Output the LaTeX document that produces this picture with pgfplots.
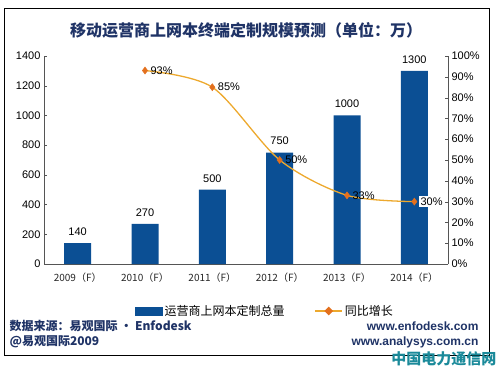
\documentclass[border=0pt]{standalone}
\usepackage{fontspec}
\setmainfont{Liberation Sans}
\newfontfamily\cjk{Noto Sans CJK SC}
\usepackage{pgfplots}
\pgfplotsset{compat=1.18}
\definecolor{barblue}{HTML}{0B4F94}
\definecolor{lineorange}{HTML}{EDA92E}
\definecolor{mkorange}{HTML}{E3701E}
\definecolor{navy}{HTML}{1F3366}
\definecolor{teal}{HTML}{1B8A9A}
\definecolor{axgray}{HTML}{555555}
\begin{document}
\begin{tikzpicture}
\useasboundingbox (0pt,0pt) rectangle (500pt,368pt);
\draw[black,line width=0.8pt] (4pt,13pt) rectangle (489pt,360pt);
\node[font=\cjk\bfseries\fontsize{16}{18}\selectfont,text=navy] at (246pt,338pt) {移动运营商上网本终端定制规模预测（单位：万）};
\begin{axis}[
  at={(44pt,104pt)}, anchor=south west,
  width=404pt, height=208pt, scale only axis,
  xmin=-0.5, xmax=5.5, ymin=0, ymax=1400,
  ytick={0,200,...,1400},
  xtick={0,...,5},
  xticklabels={2009（F）,2010（F）,2011（F）,2012（F）,2013（F）,2014（F）},
  x tick label style={font=\cjk\fontsize{10}{12}\selectfont, yshift=-2pt, text=black!85},
  y tick label style={font=\fontsize{11}{13}\selectfont},
  /pgf/number format/assume math mode=true,
  /pgf/number format/1000 sep={},
  axis x line*=bottom, axis y line*=left,
  axis line style={axgray, line width=0.8pt},
  tick style={axgray},
  major tick length=3pt,
  xtick style={draw=none},
  tick align=inside,
  ybar, bar width=27pt,
  nodes near coords,
  nodes near coords style={font=\fontsize{11}{13}\selectfont, text=black, yshift=4pt},
]
\addplot[fill=barblue, draw=none] coordinates {(0,140) (1,270) (2,500) (3,750) (4,1000) (5,1300)};
\end{axis}
\begin{axis}[
  at={(44pt,104pt)}, anchor=south west,
  width=404pt, height=208pt, scale only axis,
  xmin=-0.5, xmax=5.5, ymin=0, ymax=100,
  ytick={0,10,...,100},
  yticklabel={\pgfmathprintnumber{\tick}\%},
  y tick label style={font=\fontsize{11}{13}\selectfont},
  /pgf/number format/assume math mode=true,
  axis y line*=right, axis x line=none,
  axis line style={axgray, line width=0.8pt},
  tick style={axgray},
  major tick length=3pt,
  tick align=inside,
  legend style={at={(0.547,-0.226)}, anchor=center, draw=none, fill=none,
    legend columns=2, font=\cjk\fontsize{12}{14}\selectfont,
    /tikz/every even column/.append style={column sep=28pt}},
]
\addlegendimage{legend image code/.code={\fill[barblue] (0pt,-4pt) rectangle (27pt,4pt);}}
\addlegendentry{运营商上网本定制总量}
\addplot[lineorange, line width=1.3pt, smooth, tension=0.5, mark=diamond*, mark size=3.5pt,
  mark options={fill=mkorange, draw=mkorange, line width=0.5pt},
  nodes near coords={\pgfmathprintnumber{\pgfplotspointmeta}\%},
  nodes near coords style={anchor=west, font=\fontsize{11}{13}\selectfont, text=black, xshift=2pt},
  legend image code/.code={\draw[lineorange,line width=1.3pt] (0pt,0pt)--(27pt,0pt);
     \fill[mkorange] (13.5pt,3.5pt)--(17pt,0pt)--(13.5pt,-3.5pt)--(10pt,0pt)--cycle;}]
  coordinates {(1,93) (2,85) (3,50) (4,33) (5,30)};
\addlegendentry{同比增长}
\addplot[draw=none, mark=none, forget plot,
  nodes near coords={\pgfmathprintnumber{\pgfplotspointmeta}\%},
  nodes near coords style={anchor=west, font=\fontsize{11}{13}\selectfont, text=black, fill=white, inner sep=2pt, xshift=4pt}]
  coordinates {(5,30)};
\end{axis}
\node[anchor=west, font=\cjk\bfseries\fontsize{12}{14}\selectfont, text=navy] at (6pt,42pt) {数据来源：易观国际 · Enfodesk};
\node[anchor=west, font=\cjk\bfseries\fontsize{12}{14}\selectfont, text=navy] at (6pt,26pt) {@易观国际2009};
\node[anchor=east, font=\bfseries\fontsize{12}{14}\selectfont, text=navy] at (482pt,42pt) {www.enfodesk.com};
\node[anchor=east, font=\bfseries\fontsize{12}{14}\selectfont, text=navy] at (482pt,26pt) {www.analysys.com.cn};
\node[anchor=east, font=\cjk\bfseries\fontsize{15}{17}\selectfont, text=teal] at (500pt,9pt) {中国电力通信网};
\end{tikzpicture}
\end{document}
